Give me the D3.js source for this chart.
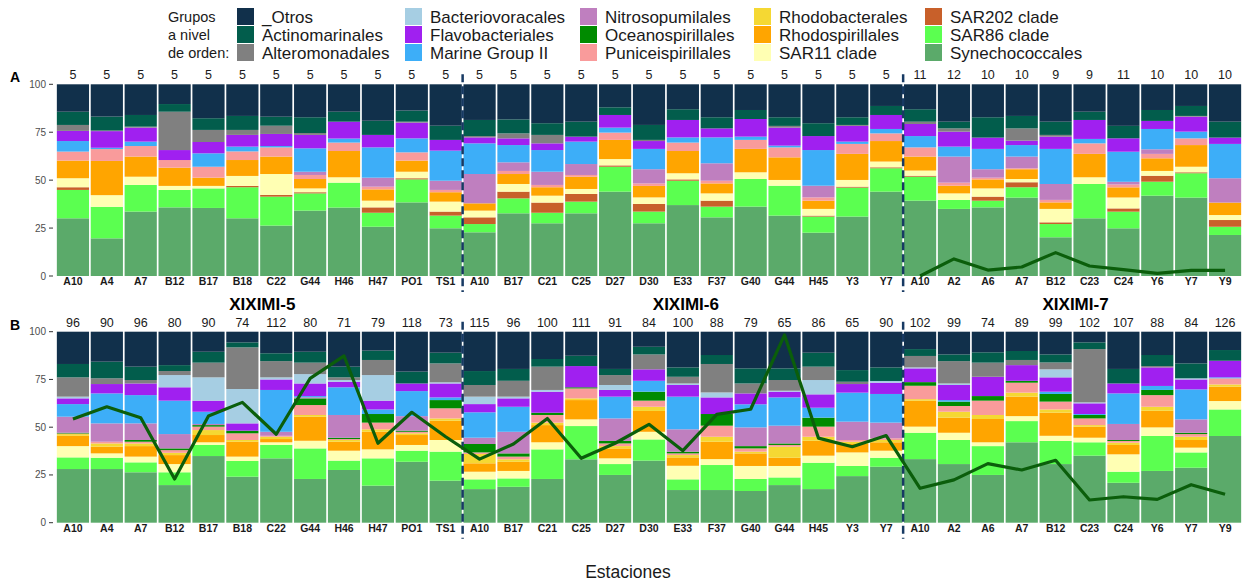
<!DOCTYPE html>
<html>
<head>
<meta charset="utf-8">
<script src="https://cdn.jsdelivr.net/npm/d3@7"></script>
<style>
  body { margin: 0; background: #fff; }
  svg { font-family: "Liberation Sans", Arial, sans-serif; }
</style>
</head>
<body>
<svg id="chart" width="1246" height="582"></svg>
<script>
// estaciones por crucero
const stations = ['A10','A4','A7','B12','B17','B18','C22','G44','H46','H47','PO1','TS1',
  'A10','B17','C21','C25','D27','D30','E33','F37','G40','G44','H45','Y3','Y7',
  'A10','A2','A6','A7','B12','C23','C24','Y6','Y7','Y9']
const cruises = ['XIXIMI-5','XIXIMI-6','XIXIMI-7']
const cruiseSize = [12, 13, 10]

const categories = ['_Otros','Actinomarinales','Alteromonadales','Bacteriovoracales','Flavobacteriales',
  'Marine Group II','Nitrosopumilales','Oceanospirillales','Puniceispirillales','Rhodobacterales',
  'Rhodospirillales','SAR11 clade','SAR202 clade','SAR86 clade','Synechococcales']
const colors = ['#11304b','#025d4c','#808080','#a6cee3','#a020f0',
  '#3daef8','#bf7fbf','#008b00','#f99b9b','#f5d833',
  '#ffa500','#ffffb3','#c8602a','#5bff50','#5baa6a']

// conteos sobre las barras
const countsA = [5,5,5,5,5,5,5,5,5,5,5,5, 5,5,5,5,5,5,5,5,5,5,5,5,5, 11,12,10,10,9,9,11,10,10,10]
const countsB = [96,90,96,80,90,74,112,80,71,79,118,73, 115,96,100,111,91,84,100,88,79,65,86,65,90,
  102,99,74,89,99,102,107,88,84,126]

// linea verde
const lineA = [null,null,null,null,null,null,null,null,null,null,null,null,
  null,null,null,null,null,null,null,null,null,null,null,null,null,
  0,8.9,3.1,4.7,12.2,5.2,3.3,1.4,2.9,2.9]
const lineB = [54.3,60.7,55.0,22.9,55.9,63.0,46.3,75.6,87.3,41.6,57.8,45.0,
  33.3,41.2,54.6,33.7,41.6,51.5,37.7,56.7,59.4,98.3,44.3,39.8,45.6,
  18.0,22.4,30.9,27.6,32.7,11.9,13.6,12.2,19.9,14.9]

// panel A (%)
const synA = [30.1,19.7,33.6,35.8,35.5,30.1,26.3,34.1,35.7,25.7,38.4,24.9, 22.8,32.7,27.5,32.7,44.0,27.5,37.0,30.6,36.2,31.5,22.6,31.0,44.0, 39.3,35.0,35.8,40.9,20.2,30.1,24.9,41.9,40.9,21.4]
const sar86A = [14.8,16.5,13.9,9.1,10.2,16.2,15.1,9.0,13.0,7.3,12.0,6.6, 4.3,7.8,5.5,6.1,13.0,6.1,12.7,5.6,14.4,15.6,8.4,15.1,12.2, 12.5,4.7,3.5,5.4,6.9,17.9,8.7,7.3,12.7,4.3]
const sar202A = [1.4,0,0,0,0,0.7,0.9,0.6,0,2.8,0.6,2.1, 3.5,3.5,5.3,4.0,0.7,4.0,0.7,3.1,0,0,0.5,0.5,0.5, 0.5,0,2.1,2.6,0.9,0,1.7,3.1,0.5,3.5]
const sar11A = [4.7,6.1,4.3,2.1,1.3,5.2,10.9,2.0,2.8,3.5,3.4,5.2, 3.5,4.0,3.6,2.6,3.3,3.4,3.2,3.8,3.5,3.0,3.5,3.5,3.0, 2.7,3.4,4.3,1.7,7.0,3.5,5.7,2.5,2.9,2.6]
const rspiA = [9.2,17.9,10.5,9.5,4.3,8.3,9.1,4.9,13.7,5.9,5.8,4.9, 3.8,5.2,4.4,6.4,10.0,6.0,11.6,5.2,12.2,11.8,4.3,13.6,10.7, 7.3,4.0,4.7,5.1,3.4,12.2,5.3,6.6,11.3,6.5]
const rbacA = [0,0,0,0,0,0,0,0,0,0,0,0, 0,0,0,0,0,0,0,0,0,0,0,0,0, 0,0,0,0,0,0,0,0,0,0]
const puniA = [4.7,6.2,5.5,4.0,5.7,4.5,4.8,2.1,4.4,1.4,4.3,1.2, 0,1.6,1.2,0.9,3.8,1.3,4.4,1.4,4.7,5.2,1.7,5.2,4.0, 4.8,1.6,0.9,0.5,1.3,5.5,1.5,2.3,3.5,0]
const oceaA = [0,0,0,0,0,0,0,0,0,0,0,0, 0,0,0,0,0,0,0,0,0,0,0,0,0, 0,0,0,0,0,0,0,0,0,0]
const nitroA = [0,0,0,0,0,0,0,1.7,0,4.7,0,4.8, 15.3,4.5,6.9,5.7,0,7.4,0,9.1,0,0,6.1,0,0, 0,13.6,4.4,6.1,8.3,0,1.4,2.4,0,12.7]
const mg2A = [5.5,0.7,2.3,0,7.0,2.5,0.7,12.2,2.1,15.8,7.3,15.7, 16.0,9.0,11.3,11.7,2.6,10.6,2.7,13.5,1.7,0.9,18.6,1.2,2.3, 5.9,5.2,10.6,6.0,18.3,2.3,15.7,10.6,3.5,17.9]
const flavoA = [5.3,8.7,7.3,5.2,5.9,6.1,6.3,7.0,8.8,6.5,8.2,5.6, 3.1,3.5,3.5,2.6,6.6,4.1,9.1,4.7,9.2,9.4,7.3,8.2,7.3, 6.3,7.8,5.9,2.3,6.4,9.9,7.0,4.2,7.8,3.3]
const bacvA = [0,0,0,0,0,0,0,0,0,0,0,0, 0,0,0,0,0,0,0,0,0,0,0,0,0, 0,0,0,0,0,0,0,0,0,0]
const altA = [3.1,0.3,0.5,20.0,6.3,2.6,4.3,1.0,0,0,0.5,0, 0.7,2.6,4.4,0,0,0.6,0,0,0,0.9,0,0.5,0, 1.2,1.7,0,6.4,0.9,0,0,0,0.4,0]
const actinoA = [6.9,7.3,6.1,4.0,6.1,7.3,4.7,8.2,5.2,7.4,5.8,7.4, 8.4,7.3,6.1,7.8,4.0,7.8,5.6,5.8,4.7,4.5,6.7,4.0,4.7, 6.5,3.5,10.6,6.5,6.9,4.3,6.5,5.7,5.2,8.3]
const otrosA = [14.3,16.9,16.0,10.3,17.7,16.5,16.9,17.2,14.3,19.0,13.7,21.6, 18.6,18.3,20.3,19.5,12.0,21.2,13.0,17.2,13.4,17.2,20.3,17.2,11.3, 13.0,19.5,17.2,16.5,19.5,14.3,21.7,13.4,11.3,19.5]

// panel B (%)
const synB = [28.1,28.1,26.4,19.7,34.9,24.1,33.7,22.9,27.6,19.4,31.9,22.0, 17.6,18.8,22.9,33.2,25.0,32.5,17.1,17.1,16.6,19.7,17.6,24.4,29.3, 33.3,30.7,25.0,42.1,30.7,35.1,20.9,27.1,28.8,45.4]
const sar86B = [6.1,5.9,5.2,6.7,5.8,8.2,7.0,16.0,4.9,14.3,5.8,15.2, 5.1,4.4,15.5,17.4,5.7,11.1,5.6,13.1,6.3,4.0,13.8,5.3,4.7, 13.8,12.6,15.1,11.1,12.1,7.0,5.8,18.3,8.0,13.9]
const sar202B = [0,0,0,0,0,0,0,0,0,0,0,0, 0,0,0,0,0,0,0,0,0,0,0,0,0, 0,0,0,0,0,0,0,0,0,0]
const sar11B = [5.9,2.3,3.0,4.3,1.4,2.3,1.4,4.0,5.2,4.7,3.0,6.1, 4.0,3.9,3.7,3.5,3.0,4.0,7.1,3.1,6.8,6.0,3.7,7.1,3.7, 3.2,3.8,2.0,2.6,2.7,2.4,9.1,4.5,2.5,4.4]
const rspiB = [5.4,3.5,5.5,4.7,3.8,7.8,1.7,12.6,4.7,9.2,5.2,10.1, 4.4,4.8,9.0,10.1,5.2,10.9,4.4,9.1,6.6,4.3,7.8,4.4,4.4, 13.6,7.9,12.2,10.2,12.1,5.8,4.9,8.7,4.0,7.5]
const rbacB = [0.9,1.7,1.4,1.2,2.6,0.9,1.2,0.9,0.9,1.3,0.9,1.2, 4.9,1.3,1.3,0.9,1.2,2.2,1.2,2.6,0.9,5.8,2.1,1.2,1.2, 0.8,3.1,2.1,2.1,1.7,0.8,1.2,2.1,1.7,1.2]
const puniB = [0.3,0.9,0.9,1.4,1.8,3.5,0.5,5.2,0.5,3.5,0.8,5.3, 0.8,1.4,4.0,5.2,1.4,3.2,0.9,5.8,1.7,0.9,5.3,0.9,0.9, 7.0,3.0,7.5,5.2,4.1,3.5,0.9,6.1,1.4,3.2]
const oceaB = [0.4,0,0.9,0.9,0.8,1.4,0,3.5,0.7,4.5,0.6,4.3, 4.4,1.7,1.2,0.6,1.3,4.7,0.9,6.1,1.2,0.8,4.7,0,0, 1.9,2.3,2.4,1.0,4.0,1.8,0.5,2.7,0.7,0]
const nitroB = [8.4,9.6,8.7,7.5,0.6,0,2.1,0.6,11.9,0,7.6,0, 3.3,11.3,0,0,11.8,0,11.7,0,9.8,9.3,0,9.6,8.2, 0,0,0,0,0,0,8.4,0,7.0,0]
const mg2B = [6.6,15.7,14.8,17.5,6.4,0,21.9,0.6,14.5,2.4,13.1,1.4, 13.3,13.1,0,0,11.4,5.7,17.1,0,12.1,14.8,5.2,15.2,15.0, 0,0.8,0,0,1.2,0.5,16.0,2.1,15.7,0.5]
const flavoB = [3.0,4.9,6.1,7.0,5.8,3.8,5.5,6.6,2.9,4.6,4.0,7.3, 4.3,4.4,11.0,11.1,3.5,6.0,6.1,8.7,5.7,3.0,7.0,4.5,5.9, 7.2,7.9,10.1,8.2,7.5,5.6,5.2,9.7,5.2,8.7]
const bacvB = [0.9,0,0,6.4,12.2,18.0,1.1,4.9,0.9,13.4,0,0.6, 3.9,0.9,0.9,0,2.6,0,0.8,2.6,0,0.5,7.5,0,0.9, 0.5,0.8,0,0,4.2,0.5,0,0,0.6,0]
const altB = [10.1,3.0,1.8,2.1,7.7,21.8,8.5,6.0,1.4,7.9,0,9.9, 6.1,8.3,12.2,0,5.2,7.8,3.5,14.9,5.2,5.6,7.0,1.2,0, 6.0,11.7,7.4,2.7,3.6,27.9,0,0.7,0,0]
const actinoB = [7.0,8.7,7.0,3.1,5.7,2.6,4.1,5.7,5.6,4.9,6.2,5.6, 7.3,6.2,4.0,5.4,3.2,4.0,4.9,4.7,7.9,6.1,7.3,6.1,7.1, 3.6,3.5,5.4,4.7,4.2,3.5,7.6,5.8,7.8,5.6]
const otrosB = [16.9,15.7,18.3,17.5,10.5,5.6,11.3,10.5,18.3,9.9,20.9,11.0, 20.6,19.5,14.3,12.6,19.5,7.9,18.7,12.2,19.2,19.2,11.0,20.1,18.7, 9.1,11.9,10.8,10.1,11.9,5.6,19.5,12.2,16.6,9.6]

const yTicks = [0, 25, 50, 75, 100]

const seriesA = [otrosA, actinoA, altA, bacvA, flavoA, mg2A, nitroA, oceaA, puniA, rbacA, rspiA, sar11A, sar202A, sar86A, synA]
const seriesB = [otrosB, actinoB, altB, bacvB, flavoB, mg2B, nitroB, oceaB, puniB, rbacB, rspiB, sar11B, sar202B, sar86B, synB]

const svg = d3.select('#chart')
const color = d3.scaleOrdinal().domain(categories).range(colors)
const ids = d3.range(stations.length)

const x = d3.scaleBand()
    .domain(ids)
    .range([56, 1242])
    .paddingInner(0.05)
    .paddingOuter(0.025)

const step = x.step()
const gapHalf = (step - x.bandwidth()) / 2
const cruiseStart = d3.cumsum([0].concat(cruiseSize)).slice(0, 3)

const toRows = (series) => ids.map(i => {
    const row = { id: i }
    categories.forEach((c, k) => { row[c] = series[k][i] })
    return row
})

// Synechococcales abajo, _Otros arriba
const stackKeys = categories.slice().reverse()
const stack = d3.stack().keys(stackKeys).offset(d3.stackOffsetExpand)

const drawPanel = (series, counts, lineVals, opts) => {
    const y = d3.scaleLinear().domain([0, 100]).range([opts.bottom, opts.top])
    const g = svg.append('g')
    const layers = stack(toRows(series))

    g.selectAll('g.layer')
        .data(layers)
        .join('g')
        .attr('fill', d => color(d.key))
        .selectAll('rect')
        .data(d => d)
        .join('rect')
        .attr('x', d => x(d.data.id))
        .attr('width', x.bandwidth())
        .attr('y', d => y(d[1] * 100))
        .attr('height', d => Math.max(0, y(d[0] * 100) - y(d[1] * 100)))

    // eje y
    const yAxis = g.append('g')
    yAxis.selectAll('line')
        .data(yTicks)
        .join('line')
        .attr('x1', 49).attr('x2', 53)
        .attr('y1', d => y(d)).attr('y2', d => y(d))
        .attr('stroke', '#333').attr('stroke-width', 1)
    yAxis.selectAll('text')
        .data(yTicks)
        .join('text')
        .attr('x', 46)
        .attr('y', d => y(d))
        .attr('dy', '0.35em')
        .attr('text-anchor', 'end')
        .attr('font-size', 10)
        .attr('fill', '#4d4d4d')
        .text(d => d)

    // conteos
    g.selectAll('text.count')
        .data(counts)
        .join('text')
        .attr('class', 'count')
        .attr('x', (d, i) => x(i) + x.bandwidth() / 2)
        .attr('y', opts.top - 5)
        .attr('text-anchor', 'middle')
        .attr('font-size', 12.5)
        .attr('fill', '#1a1a1a')
        .text(d => d)

    // etiquetas de estacion
    g.selectAll('text.st')
        .data(stations)
        .join('text')
        .attr('class', 'st')
        .attr('x', (d, i) => x(i) + x.bandwidth() / 2)
        .attr('y', opts.bottom + 9)
        .attr('text-anchor', 'middle')
        .attr('font-size', 10.5)
        .attr('font-weight', 'bold')
        .attr('fill', '#1a1a1a')
        .text(d => d)

    // separadores de crucero
    g.selectAll('line.sep')
        .data(cruiseStart.slice(1))
        .join('line')
        .attr('class', 'sep')
        .attr('x1', d => x(d) - gapHalf).attr('x2', d => x(d) - gapHalf)
        .attr('y1', opts.top - 10).attr('y2', opts.bottom + 16)
        .attr('stroke', '#173a63')
        .attr('stroke-width', 2.5)
        .attr('stroke-dasharray', '8,4')

    // linea
    const line = d3.line()
        .defined(d => d.v != null)
        .x(d => x(d.i) + x.bandwidth() / 2)
        .y(d => y(d.v))
    g.append('path')
        .datum(lineVals.map((v, i) => ({ i, v })))
        .attr('d', line)
        .attr('fill', 'none')
        .attr('stroke', '#0b5e0b')
        .attr('stroke-width', 3.2)
        .attr('stroke-linejoin', 'round')

    g.append('text')
        .attr('x', 10)
        .attr('y', opts.top - 2)
        .attr('font-size', 14)
        .attr('font-weight', 'bold')
        .text(opts.label)
}

drawPanel(seriesA, countsA, lineA, { top: 84.3, bottom: 276, label: 'A' })
drawPanel(seriesB, countsB, lineB, { top: 331.7, bottom: 522.7, label: 'B' })

// nombres de crucero
svg.selectAll('text.cruise')
    .data(cruises)
    .join('text')
    .attr('class', 'cruise')
    .attr('x', (d, k) => {
        const a = x(cruiseStart[k])
        const b = x(cruiseStart[k] + cruiseSize[k] - 1) + x.bandwidth()
        return (a + b) / 2 + 3
    })
    .attr('y', 310)
    .attr('text-anchor', 'middle')
    .attr('font-size', 17)
    .attr('font-weight', 'bold')
    .text(d => d)

svg.append('text')
    .attr('x', 628)
    .attr('y', 578)
    .attr('text-anchor', 'middle')
    .attr('font-size', 17.5)
    .attr('fill', '#1a1a1a')
    .text('Estaciones')

// leyenda
const legend = svg.append('g')
const legendTitle = ['Grupos', 'a nivel', 'de orden:']
legend.selectAll('text.lt')
    .data(legendTitle)
    .join('text')
    .attr('class', 'lt')
    .attr('x', 168)
    .attr('y', (d, i) => 17 + i * 18)
    .attr('dy', '0.35em')
    .attr('font-size', 14.5)
    .attr('fill', '#1a1a1a')
    .text(d => d)

const colKeyX = [237, 405, 580, 754, 925]
const item = legend.selectAll('g.item')
    .data(categories)
    .join('g')
    .attr('class', 'item')
    .attr('transform', (d, i) => `translate(${colKeyX[Math.floor(i / 3)]},${8 + (i % 3) * 18})`)
item.append('rect')
    .attr('width', 17)
    .attr('height', 17)
    .attr('fill', d => color(d))
item.append('text')
    .attr('x', 25)
    .attr('y', 9)
    .attr('dy', '0.35em')
    .attr('font-size', 17)
    .attr('fill', '#1a1a1a')
    .text(d => d)
</script>
</body>
</html>
